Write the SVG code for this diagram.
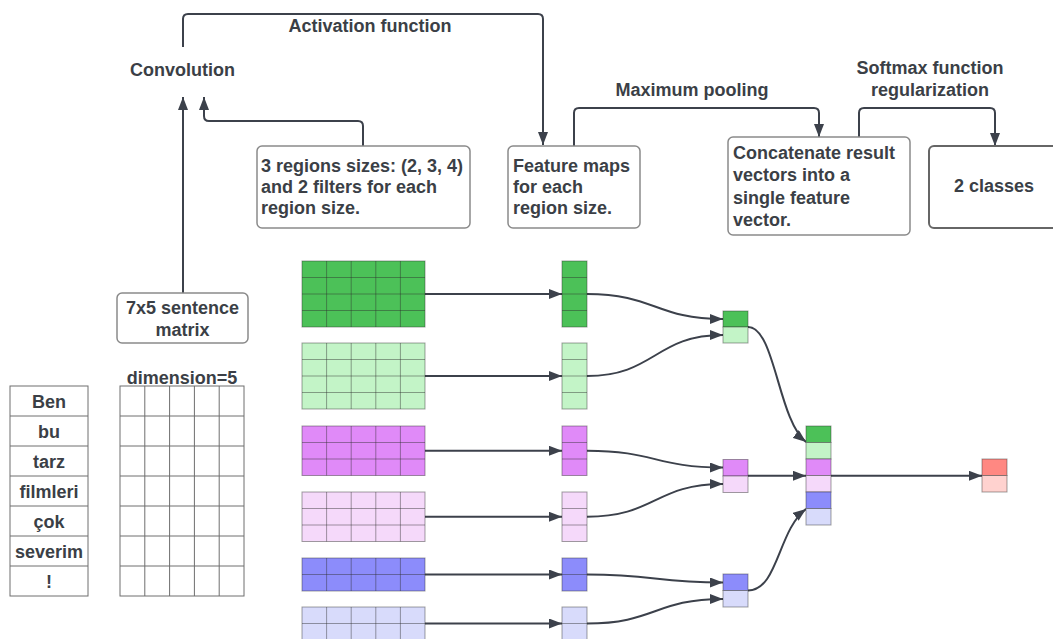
<svg xmlns="http://www.w3.org/2000/svg" width="1053" height="639" viewBox="0 0 1053 639">
<style>
text{font-family:"Liberation Sans",Arial,sans-serif;font-weight:bold;font-size:18px;fill:#3b3f46}
.c{text-anchor:middle}
.box{fill:#fff;stroke:#8a8a8a;stroke-width:1.5}
.conn{fill:none;stroke:#3c414b;stroke-width:2}
.cell{stroke:#2f2f2f;stroke-opacity:0.45;stroke-width:1}
.gl{fill:none;stroke:#2f2f2f;stroke-opacity:0.45;stroke-width:1}
.tbl{fill:#fff;stroke:#6e6e6e;stroke-width:1}
.tl{fill:none;stroke:#6e6e6e;stroke-width:1}
.g1{fill:#4cc158}.g2{fill:#c3f4c7}.p1{fill:#e08af8}.p2{fill:#f5d9fa}.b1{fill:#8c8cfb}.b2{fill:#d8dbfb}.r1{fill:#ff8882}.r2{fill:#ffd2cf}
</style>
<defs>
<marker id="ah" viewBox="0 0 13 10" refX="13" refY="5" markerWidth="13" markerHeight="10" markerUnits="userSpaceOnUse" orient="auto">
<path d="M0,0 L13,5 L0,10 z" fill="#3c414b"/>
</marker>
</defs>

<g id="connectors">
<path class="conn" d="M183,47 V19 Q183,14 188,14 H538 Q543,14 543,19 V145" marker-end="url(#ah)"/>
<path class="conn" d="M574,146 V113 Q574,108 579,108 H814 Q819,108 819,113 V137" marker-end="url(#ah)"/>
<path class="conn" d="M859,137 V113 Q859,108 864,108 H990 Q995,108 995,113 V146" marker-end="url(#ah)"/>
<path class="conn" d="M363,146 V126 Q363,121 358,121 H209 Q204,121 204,116 V97" marker-end="url(#ah)"/>
<path class="conn" d="M183,293 V97" marker-end="url(#ah)"/>
<path class="conn" d="M425,294 H562" marker-end="url(#ah)"/>
<path class="conn" d="M425,376 H562" marker-end="url(#ah)"/>
<path class="conn" d="M425,450.75 H562" marker-end="url(#ah)"/>
<path class="conn" d="M425,516.75 H562" marker-end="url(#ah)"/>
<path class="conn" d="M425,574.5 H562" marker-end="url(#ah)"/>
<path class="conn" d="M425,623.5 H562" marker-end="url(#ah)"/>
<path class="conn" d="M587,294 C655,294 655,319 723,319" marker-end="url(#ah)"/>
<path class="conn" d="M587,376 C655,376 655,335 723,335" marker-end="url(#ah)"/>
<path class="conn" d="M587,450.75 C655,450.75 655,467.5 723,467.5" marker-end="url(#ah)"/>
<path class="conn" d="M587,516.75 C655,516.75 655,484 723,484" marker-end="url(#ah)"/>
<path class="conn" d="M587,574.5 C655,574.5 655,582.5 723,582.5" marker-end="url(#ah)"/>
<path class="conn" d="M587,623.5 C655,623.5 655,599 723,599" marker-end="url(#ah)"/>
<path class="conn" d="M748,327 C775,327 778,420 806,442" marker-end="url(#ah)"/>
<path class="conn" d="M748,475.75 H806" marker-end="url(#ah)"/>
<path class="conn" d="M748,590.5 C778,590.5 778,530 806,509" marker-end="url(#ah)"/>
<path class="conn" d="M831,475.75 H982" marker-end="url(#ah)"/>
</g>

<g id="label-activation"><text class="c" x="370" y="32">Activation function</text></g>
<g id="node-convolution"><text class="c" x="182.5" y="75.5">Convolution</text></g>
<g id="label-maxpool"><text class="c" x="692" y="96">Maximum pooling</text></g>
<g id="label-softmax"><text class="c" x="930" y="74">Softmax function</text><text class="c" x="930" y="96">regularization</text></g>

<g id="node-regions">
<rect class="box" x="257" y="146" width="213" height="82" rx="5"/>
<text x="261" y="171.5">3 regions sizes: (2, 3, 4)</text>
<text x="261" y="192.5">and 2 filters for each</text>
<text x="261" y="213.5">region size.</text>
</g>
<g id="node-featuremaps">
<rect class="box" x="508" y="146" width="132" height="82" rx="5"/>
<text x="513" y="171.5">Feature maps</text>
<text x="513" y="192.5">for each</text>
<text x="513" y="213.5">region size.</text>
</g>
<g id="node-concat">
<rect class="box" x="728" y="137" width="182" height="98" rx="5"/>
<text x="733" y="158.5">Concatenate result</text>
<text x="733" y="181">vectors into a</text>
<text x="733" y="203.5">single feature</text>
<text x="733" y="226">vector.</text>
</g>
<g id="node-classes">
<rect class="box" x="929" y="146" width="140" height="82" rx="5" style="stroke:#666;stroke-width:2"/>
<text class="c" x="994" y="191.5">2 classes</text>
</g>
<g id="node-sentence">
<rect class="box" x="117" y="293" width="131" height="50" rx="5"/>
<text class="c" x="182.5" y="313.5">7x5 sentence</text>
<text class="c" x="182.5" y="335.5">matrix</text>
</g>

<g id="node-words">
<rect class="tbl" x="10" y="386" width="78" height="210"/>
<path class="tl" d="M10,416H88M10,446H88M10,476H88M10,506H88M10,536H88M10,566H88"/>
<text class="c" x="49" y="407.5">Ben</text>
<text class="c" x="49" y="437.5">bu</text>
<text class="c" x="49" y="467.5">tarz</text>
<text class="c" x="49" y="497.5">filmleri</text>
<text class="c" x="49" y="527.5">çok</text>
<text class="c" x="49" y="557.5">severim</text>
<text class="c" x="49" y="587.5">!</text>
</g>
<g id="node-matrix">
<text class="c" x="182" y="383.5">dimension=5</text>
<rect class="tbl" x="120" y="386" width="124" height="210"/>
<path class="tl" d="M144.8,386V596M169.6,386V596M194.4,386V596M219.2,386V596M120,416H244M120,446H244M120,476H244M120,506H244M120,536H244M120,566H244"/>
</g>

<g id="filter-green">
<rect class="cell g1" x="302" y="261" width="123" height="66"/>
<path class="gl" d="M326.6,261V327M351.2,261V327M375.8,261V327M400.4,261V327M302,277.5H425M302,294H425M302,310.5H425"/>
</g>
<g id="filter-lightgreen">
<rect class="cell g2" x="302" y="343" width="123" height="66"/>
<path class="gl" d="M326.6,343V409M351.2,343V409M375.8,343V409M400.4,343V409M302,359.5H425M302,376H425M302,392.5H425"/>
</g>
<g id="filter-purple">
<rect class="cell p1" x="302" y="426" width="123" height="49.5"/>
<path class="gl" d="M326.6,426V475.5M351.2,426V475.5M375.8,426V475.5M400.4,426V475.5M302,442.5H425M302,459H425"/>
</g>
<g id="filter-lightpurple">
<rect class="cell p2" x="302" y="492" width="123" height="49.5"/>
<path class="gl" d="M326.6,492V541.5M351.2,492V541.5M375.8,492V541.5M400.4,492V541.5M302,508.5H425M302,525H425"/>
</g>
<g id="filter-blue">
<rect class="cell b1" x="302" y="558" width="123" height="33"/>
<path class="gl" d="M326.6,558V591M351.2,558V591M375.8,558V591M400.4,558V591M302,574.5H425"/>
</g>
<g id="filter-lightblue">
<rect class="cell b2" x="302" y="607" width="123" height="33"/>
<path class="gl" d="M326.6,607V640M351.2,607V640M375.8,607V640M400.4,607V640M302,623.5H425"/>
</g>

<g id="fmap-green"><rect class="cell g1" x="562" y="261" width="25" height="66"/><path class="gl" d="M562,277.5H587M562,294H587M562,310.5H587"/></g>
<g id="fmap-lightgreen"><rect class="cell g2" x="562" y="343" width="25" height="66"/><path class="gl" d="M562,359.5H587M562,376H587M562,392.5H587"/></g>
<g id="fmap-purple"><rect class="cell p1" x="562" y="426" width="25" height="49.5"/><path class="gl" d="M562,442.5H587M562,459H587"/></g>
<g id="fmap-lightpurple"><rect class="cell p2" x="562" y="492" width="25" height="49.5"/><path class="gl" d="M562,508.5H587M562,525H587"/></g>
<g id="fmap-blue"><rect class="cell b1" x="562" y="558" width="25" height="33"/><path class="gl" d="M562,574.5H587"/></g>
<g id="fmap-lightblue"><rect class="cell b2" x="562" y="607" width="25" height="33"/><path class="gl" d="M562,623.5H587"/></g>

<g id="pool-green"><rect class="cell g1" x="723" y="311" width="25" height="16"/><rect class="cell g2" x="723" y="327" width="25" height="16"/></g>
<g id="pool-purple"><rect class="cell p1" x="723" y="459.5" width="25" height="16.5"/><rect class="cell p2" x="723" y="476" width="25" height="16.5"/></g>
<g id="pool-blue"><rect class="cell b1" x="723" y="574" width="25" height="16.5"/><rect class="cell b2" x="723" y="590.5" width="25" height="16.5"/></g>

<g id="concat-vector">
<rect class="cell g1" x="806" y="426" width="25" height="16.5"/>
<rect class="cell g2" x="806" y="442.5" width="25" height="16.5"/>
<rect class="cell p1" x="806" y="459" width="25" height="16.5"/>
<rect class="cell p2" x="806" y="475.5" width="25" height="16.5"/>
<rect class="cell b1" x="806" y="492" width="25" height="16.5"/>
<rect class="cell b2" x="806" y="508.5" width="25" height="16.5"/>
</g>
<g id="output-vector">
<rect class="cell r1" x="982" y="459" width="25" height="16.5"/>
<rect class="cell r2" x="982" y="475.5" width="25" height="16.5"/>
</g>
</svg>
